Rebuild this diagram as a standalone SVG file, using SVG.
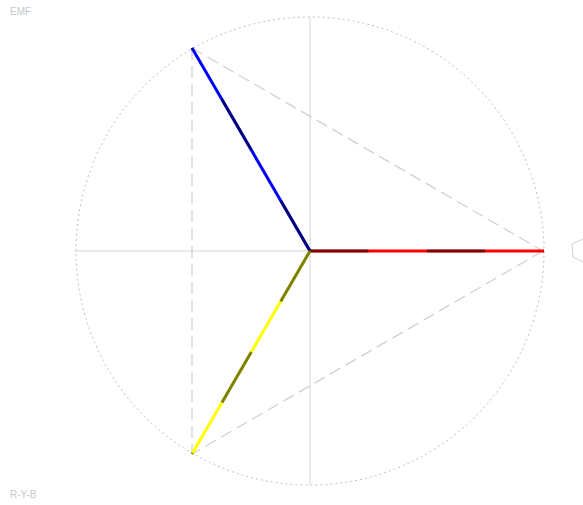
<svg xmlns="http://www.w3.org/2000/svg" width="583" height="505" viewBox="0 0 583 505">
<style>
.lbl{font-family:"Liberation Sans",Arial,sans-serif;font-size:10px;fill:#c8c8c8}
.axis{stroke:#d4d4d4;stroke-width:1;fill:none}
.circ{stroke:#bdbdbd;stroke-width:1;fill:none;stroke-dasharray:2 3}
.tri{stroke:#d0d0d0;stroke-width:1.3;fill:none;stroke-dasharray:12 6}
.ph{stroke-width:3;stroke-linecap:butt;fill:none}
.ov{stroke:#000;stroke-opacity:0.5;stroke-width:3;fill:none;stroke-dasharray:58.4 58.4}
</style>
<rect width="583" height="505" fill="#fff"/>
<text class="lbl" x="10" y="15">EMF</text>
<text class="lbl" x="10" y="498">R-Y-B</text>
<g id="grid">
<circle class="circ" cx="310" cy="251" r="234"/>
<line class="axis" x1="75" y1="251" x2="545" y2="251"/>
<line class="axis" x1="310" y1="17" x2="310" y2="485"/>
</g>
<g id="connectors">
<line class="tri" x1="192" y1="48" x2="543" y2="251"/>
<line class="tri" x1="543" y1="251" x2="192" y2="454"/>
<line class="tri" x1="192" y1="48" x2="192" y2="454"/>
</g>
<g id="phase-R">
<line class="ph" stroke="#ff0000" x1="310" y1="251" x2="544" y2="251"/>
<line class="ov" x1="310" y1="251" x2="544" y2="251"/>
</g>
<g id="phase-B">
<line class="ph" stroke="#0000ff" x1="310" y1="251" x2="192" y2="48"/>
<line class="ov" x1="310" y1="251" x2="192" y2="48"/>
</g>
<g id="phase-Y">
<line class="ph" stroke="#ffff00" x1="310" y1="251" x2="192" y2="454"/>
<line class="ov" x1="310" y1="251" x2="192" y2="454"/>
</g>
<g id="marker-right">
<polyline points="583,239 572,244 573,257 583,262" fill="none" stroke="#cfcfcf" stroke-width="1"/>
</g>
</svg>
